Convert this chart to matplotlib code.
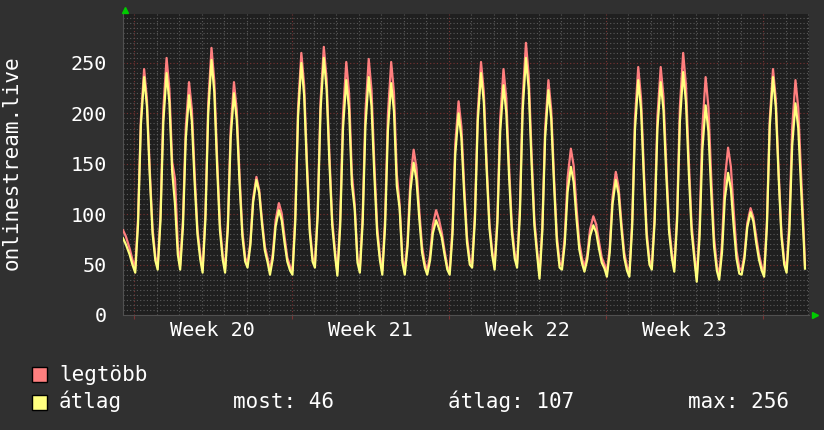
import matplotlib
matplotlib.use("Agg")
import matplotlib.pyplot as plt
from matplotlib.patches import Rectangle

# ---- data: viewers per sample, 30 days + a Sunday lead-in ---------------- #
# sample hours inside each day (hours after midnight)
HOURS = [1, 4, 7, 10.5, 13.5, 16.5, 19.5, 22.5]

LEAD_HOURS = [-12, -9, -5, -2]
LEAD_MAX = [84, 78, 66, 55]
LEAD_AVG = [76, 70, 60, 50]

MAX_BY_DAY = [
    [46, 96, 194, 244, 214, 145, 86, 58],
    [49, 100, 204, 255, 224, 152, 135, 70],
    [49, 95, 186, 231, 204, 140, 85, 60],
    [46, 101, 210, 265, 232, 156, 90, 59],
    [46, 92, 185, 231, 203, 138, 83, 57],
    [51, 72, 116, 137, 124, 94, 68, 56],
    [44, 61, 94, 111, 101, 78, 57, 48],
    [44, 98, 206, 260, 228, 152, 87, 57],
    [51, 105, 212, 266, 234, 159, 94, 64],
    [43, 95, 199, 251, 220, 140, 110, 56],
    [46, 98, 202, 254, 223, 150, 88, 58],
    [44, 96, 199, 251, 220, 140, 110, 56],
    [44, 74, 134, 164, 146, 104, 68, 51],
    [44, 59, 89, 104, 95, 82, 64, 48],
    [44, 86, 170, 212, 187, 128, 78, 54],
    [51, 101, 201, 251, 221, 151, 91, 63],
    [49, 98, 195, 244, 215, 147, 88, 61],
    [51, 106, 215, 270, 237, 161, 95, 64],
    [40, 88, 185, 233, 204, 137, 79, 52],
    [49, 78, 136, 165, 148, 107, 72, 56],
    [47, 60, 85, 98, 90, 73, 57, 50],
    [42, 67, 117, 142, 127, 92, 62, 48],
    [42, 93, 195, 246, 215, 144, 83, 54],
    [49, 98, 197, 246, 216, 148, 88, 61],
    [47, 100, 207, 260, 228, 154, 90, 60],
    [37, 87, 186, 236, 206, 137, 77, 49],
    [39, 71, 134, 166, 147, 103, 64, 47],
    [44, 60, 91, 106, 97, 78, 60, 48],
    [42, 93, 194, 244, 214, 143, 82, 54],
    [46, 93, 186, 233, 205, 140, 78],
]
AVG_BY_DAY = [
    [42, 90, 188, 236, 207, 139, 81, 54],
    [45, 94, 191, 240, 211, 142, 110, 60],
    [45, 88, 175, 218, 192, 131, 80, 55],
    [42, 95, 200, 253, 221, 147, 84, 55],
    [42, 86, 176, 220, 193, 131, 78, 53],
    [47, 69, 112, 134, 121, 90, 64, 52],
    [40, 56, 88, 104, 94, 72, 53, 44],
    [40, 92, 197, 250, 218, 145, 82, 53],
    [47, 99, 203, 255, 224, 151, 89, 59],
    [39, 88, 185, 233, 204, 130, 105, 52],
    [42, 91, 188, 236, 207, 139, 81, 54],
    [40, 88, 183, 230, 202, 128, 106, 52],
    [40, 68, 123, 151, 134, 96, 62, 47],
    [40, 54, 81, 94, 86, 77, 60, 45],
    [40, 80, 160, 200, 176, 120, 72, 50],
    [47, 95, 192, 240, 211, 144, 86, 59],
    [45, 91, 182, 228, 201, 137, 82, 56],
    [47, 99, 203, 255, 224, 151, 89, 59],
    [36, 83, 176, 223, 195, 130, 73, 47],
    [45, 71, 122, 147, 132, 96, 65, 51],
    [43, 55, 78, 89, 82, 66, 52, 46],
    [38, 62, 110, 134, 120, 86, 57, 44],
    [38, 87, 184, 233, 204, 136, 77, 50],
    [45, 92, 185, 231, 203, 138, 82, 56],
    [43, 93, 192, 241, 211, 142, 83, 55],
    [33, 77, 164, 208, 182, 121, 68, 44],
    [35, 62, 115, 141, 125, 88, 56, 41],
    [40, 56, 87, 102, 93, 72, 55, 44],
    [38, 88, 187, 236, 206, 137, 78, 50],
    [42, 84, 168, 210, 185, 126, 70],
]
TAIL_DAY = 29.86
TAIL_MAX = 50
TAIL_AVG = 46

WEEK_LABELS = ["Week 20", "Week 21", "Week 22", "Week 23"]
WEEK_STARTS = [0, 7, 14, 21, 28]
STAT_NAMES = ["most", "átlag", "max"]
STAT_VALUES = [46, 107, 256]
SERIES_NAMES = ["legtöbb", "átlag"]

# ---- assemble time axis (days since Monday of week 20) ------------------ #
t = [h / 24 for h in LEAD_HOURS]
vmax = list(LEAD_MAX)
vavg = list(LEAD_AVG)
for d, (rm, ra) in enumerate(zip(MAX_BY_DAY, AVG_BY_DAY)):
    t += [d + h / 24 for h in HOURS[:len(rm)]]
    vmax += rm
    vavg += ra
t.append(TAIL_DAY)
vmax.append(TAIL_MAX)
vavg.append(TAIL_AVG)

# ---- style -------------------------------------------------------------- #
BG = "#303030"
CANVAS = "#1f1f1f"
RED = "#ff7f7f"
YELLOW = "#ffff7f"
MINOR = "#5a5a5a"
MAJOR = "#7a3434"
FONT = "DejaVu Sans Mono"
W, H = 824, 430

fig = plt.figure(figsize=(W / 100, H / 100), dpi=100)
fig.patch.set_facecolor(BG)
ax = fig.add_axes([123 / W, 115 / H, 686 / W, 301 / H])
ax.set_facecolor(CANVAS)

ax.plot(t, vmax, color=RED, lw=1.6, zorder=3)
ax.plot(t, vavg, color=YELLOW, lw=1.6, zorder=4)

ax.set_xlim(-0.503, 30.04)
ax.set_ylim(0, 298.6)

# grid: dotted minors every day / 5 units, red majors per week / 50 units
ax.set_xticks(WEEK_STARTS)
ax.set_xticks(range(0, 31), minor=True)
ax.set_yticks(range(0, 251, 50))
ax.set_yticks(range(0, 296, 5), minor=True)
ax.grid(which="minor", color=MINOR, lw=0.8, ls=(0, (1, 2)), zorder=1)
ax.grid(which="major", color=MAJOR, lw=0.8, ls=(0, (1, 2)), zorder=2)
ax.set_xticklabels([])
ax.tick_params(axis="x", which="major", colors=MAJOR, length=3)
ax.tick_params(axis="x", which="minor", length=0)
ax.tick_params(axis="y", which="both", length=0, pad=11.5,
               labelcolor="white", labelsize=14.5)
for lab in ax.get_yticklabels():
    lab.set_family(FONT)

for s in ("top", "right"):
    ax.spines[s].set_visible(False)
for s in ("left", "bottom"):
    ax.spines[s].set_color("#505050")

for i, lab in enumerate(WEEK_LABELS):
    c = (WEEK_STARTS[i] + WEEK_STARTS[i + 1]) / 2
    ax.text(c, -16 / 301, lab, transform=ax.get_xaxis_transform(),
            ha="center", va="center", color="white", fontsize=14.5, family=FONT)

fig.text(12 / W, 1 - 163 / H, "onlinestream.live", rotation=90,
         ha="center", va="center", color="white", fontsize=15, family=FONT)

# green axis arrows
ax.plot([2 / 686], [1 + 4 / 301], marker="^", color="#00cc00", ms=5,
        transform=ax.transAxes, clip_on=False, zorder=6)
ax.plot([1 + 6 / 686], [0], marker=">", color="#00cc00", ms=5,
        transform=ax.transAxes, clip_on=False, zorder=6)

# legend rows
rows_y = [381, 408.5]
for name, col, yb in zip(SERIES_NAMES, [RED, YELLOW], rows_y):
    fig.patches.append(Rectangle((32 / W, 1 - (yb + 1) / H), 15 / W, 15 / H,
                                 transform=fig.transFigure, facecolor=col,
                                 edgecolor="black", lw=1))
    fig.text(59 / W, 1 - yb / H, name, color="white", fontsize=15,
             family=FONT, va="baseline")

for name, val, x in zip(STAT_NAMES, STAT_VALUES, [233, 448, 688]):
    fig.text(x / W, 1 - rows_y[1] / H, f"{name}: {val}", color="white",
             fontsize=15, family=FONT, va="baseline")

fig.savefig("out.png", dpi=100, facecolor=BG)
